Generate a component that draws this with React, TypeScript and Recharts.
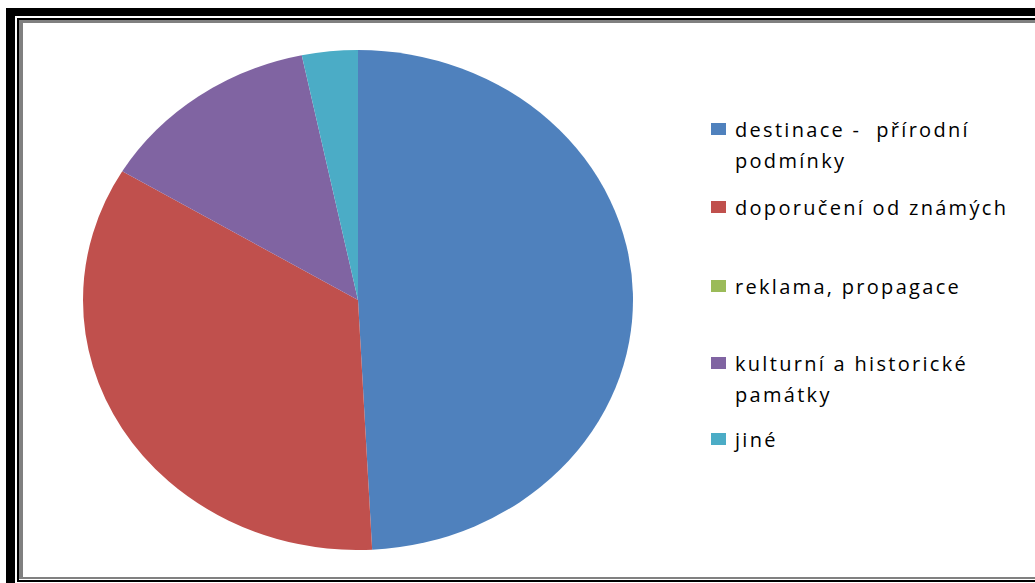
import { Cell, Pie, PieChart } from 'recharts'

const categories = [
  'destinace -  přírodní podmínky',
  'doporučení od známých',
  'reklama, propagace',
  'kulturní a historické památky',
  'jiné'
]
const legendLines = [
  ['destinace -  přírodní', 'podmínky'],
  ['doporučení od známých'],
  ['reklama, propagace'],
  ['kulturní a historické', 'památky'],
  ['jiné']
]
const values = [30, 21, 0, 8, 2]
const colors = ['#4f81bd', '#c0504d', '#9bbb59', '#8064a2', '#4bacc6']

const data = categories.map((name, i) => ({ name, value: values[i] }))

// top of each legend entry, matching the original layout
const legendTops = [114, 192, 271, 348, 424]

function bar(left: number, top: number, width: number, height: number, color: string) {
  return <div style={{ position: 'absolute', left, top, width, height, background: color }} />
}

export default function App() {
  return (
    <div style={{ position: 'absolute', left: 0, top: 0, width: 1035, height: 583, background: '#fff', overflow: 'hidden' }}>
      {/* frame */}
      {bar(6, 8, 1029, 8, '#000')}
      {bar(6, 8, 9, 575, '#000')}
      {bar(17, 18, 1018, 2, '#000')}
      {bar(17, 18, 2, 564, '#000')}
      {bar(17, 580, 1018, 2, '#000')}
      {bar(19, 20, 1016, 3, '#808080')}
      {bar(19, 20, 4, 559, '#808080')}
      {bar(19, 577, 1016, 2, '#808080')}

      <div style={{ position: 'absolute', left: 83, top: 50, width: 500, height: 500, transform: 'scaleX(1.1)', transformOrigin: '0 0' }}>
        <PieChart width={500} height={500} margin={{ top: 0, right: 0, bottom: 0, left: 0 }}>
          <Pie
            data={data}
            dataKey="value"
            nameKey="name"
            cx={250}
            cy={250}
            outerRadius={250}
            startAngle={90}
            endAngle={-270}
            stroke="none"
            isAnimationActive={false}
          >
            {data.map((item, index) => (
              <Cell key={`${item.name}-${index}`} fill={colors[index]} />
            ))}
          </Pie>
        </PieChart>
      </div>

      {legendLines.map((lines, i) => (
        <div key={categories[i]} style={{ position: 'absolute', left: 711, top: legendTops[i] }}>
          <div style={{ position: 'absolute', left: 0, top: 9, width: 15, height: 12, background: colors[i] }} />
          <div
            style={{
              position: 'absolute',
              left: 24,
              top: 0,
              fontFamily: '"Open Sans", sans-serif',
              fontSize: 20,
              lineHeight: '31px',
              letterSpacing: 2.3,
              color: '#000',
              whiteSpace: 'pre'
            }}
          >
            {lines.map((line) => (
              <div key={line}>{line}</div>
            ))}
          </div>
        </div>
      ))}
    </div>
  )
}
